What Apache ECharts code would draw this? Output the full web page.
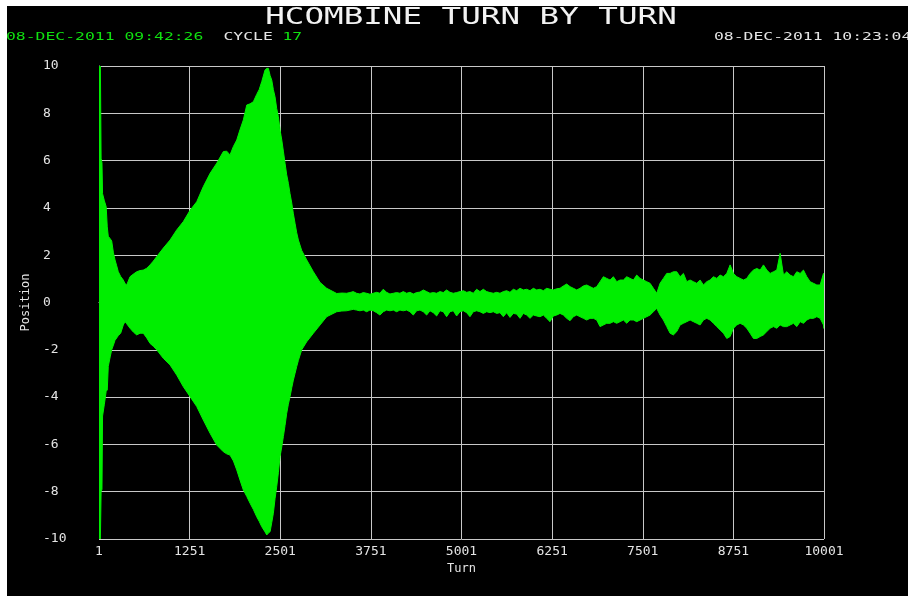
<!DOCTYPE html>
<html>
<head>
<meta charset="utf-8">
<script src="https://cdn.jsdelivr.net/npm/echarts@6/dist/echarts.min.js"></script>
<style>
  html, body { margin: 0; padding: 0; background: #000; overflow: hidden; width: 908px; height: 596px; }
  #chart { position: absolute; left: 0; top: 0; width: 908px; height: 596px; }
</style>
</head>
<body>
<div id="chart"></div>
<script>
// ---------------- texts ----------------
const titleText = 'HCOMBINE TURN BY TURN';
const startStamp = '08-DEC-2011 09:42:26';
const cycleLabel = 'CYCLE';
const cycleNumber = '17';
const endStamp = '08-DEC-2011 10:23:04';
const xName = 'Turn';
const yName = 'Position';

// ---------------- tick labels ----------------
const xTickLabels = ['1', '1251', '2501', '3751', '5001', '6251', '7501', '8751', '10001'];
const yTickLabels = ['-10', '-8', '-6', '-4', '-2', '0', '2', '4', '6', '8', '10'];

// ---------------- envelope data (turn, max position, min position) ----------------
const turnsEarly = [1,20,30,42,50,75,100,115,129,155,176,200,222,245,267,300,336,360,383,429,475,521,567,612,660,705,750,797,888,981,1073,1164,1257,1349,1440,1533,1625,1716,1762,1808,1855,1901,1945,1992,2039,2085,2130,2176,2210,2246,2291,2315,2337,2361,2384,2406,2429,2452,2475,2498,2522,2544,2567,2590,2613,2636,2660,2682,2705,2728,2751,2797,2866,2958,3050,3142,3280,3350];
const upperEarly = [10,10,6.1,5.9,4.6,4.3,4.05,3.2,2.8,2.7,2.6,2.1,1.8,1.55,1.3,1.1,0.95,0.8,0.74,1.09,1.2,1.3,1.35,1.37,1.45,1.59,1.75,1.94,2.3,2.64,3.07,3.42,3.9,4.26,4.9,5.46,5.89,6.38,6.4,6.24,6.6,6.87,7.3,7.72,8.35,8.4,8.49,8.8,9.0,9.34,9.83,9.9,9.9,9.6,9.4,9.0,8.7,8.2,7.86,7.3,6.87,6.4,5.89,5.4,5.04,4.6,4.2,3.75,3.35,2.95,2.64,2.2,1.8,1.3,0.85,0.6,0.38,0.4];
const lowerEarly = [-10,-10,-8.0,-7.9,-4.8,-4.3,-3.75,-3.7,-2.7,-2.3,-2.0,-1.8,-1.6,-1.5,-1.4,-1.3,-0.95,-0.81,-0.9,-1.09,-1.25,-1.37,-1.3,-1.3,-1.5,-1.73,-1.85,-2.0,-2.36,-2.64,-3.07,-3.56,-3.98,-4.4,-4.97,-5.53,-6.03,-6.31,-6.4,-6.45,-6.7,-7.08,-7.5,-7.93,-8.2,-8.49,-8.75,-9.06,-9.25,-9.48,-9.7,-9.83,-9.75,-9.69,-9.3,-8.91,-8.3,-7.79,-7.2,-6.52,-6.1,-5.67,-5.2,-4.69,-4.3,-3.98,-3.6,-3.28,-3.0,-2.71,-2.45,-2.0,-1.66,-1.3,-0.95,-0.6,-0.39,-0.36];

const turnsMid = [3416,3462,3508,3554,3600,3646,3692,3738,3784,3830,3876,3922,3968,4014,4060,4106,4152,4198,4244,4290,4336,4382,4428,4474,4520,4566,4612,4658,4704,4750,4796,4842,4888,4934,4980,5026,5072,5118,5164,5210,5256,5302,5348,5394,5440,5486,5532,5578,5624,5670,5716,5762,5808,5854,5900,5946,5992,6038,6084,6130,6176,6222,6268,6314,6360,6406,6452,6498,6544];
const upperMid = [0.39,0.42,0.46,0.39,0.36,0.42,0.39,0.35,0.39,0.43,0.39,0.56,0.43,0.36,0.39,0.42,0.39,0.46,0.39,0.43,0.36,0.42,0.44,0.53,0.46,0.39,0.42,0.39,0.46,0.42,0.53,0.43,0.39,0.42,0.46,0.50,0.43,0.46,0.39,0.56,0.46,0.56,0.46,0.42,0.39,0.43,0.39,0.46,0.50,0.43,0.56,0.50,0.60,0.53,0.56,0.50,0.60,0.53,0.56,0.50,0.60,0.56,0.53,0.58,0.60,0.70,0.78,0.67,0.60];
const lowerMid = [-0.35,-0.32,-0.29,-0.32,-0.35,-0.32,-0.39,-0.32,-0.35,-0.43,-0.53,-0.39,-0.32,-0.35,-0.32,-0.39,-0.32,-0.35,-0.32,-0.39,-0.53,-0.35,-0.32,-0.39,-0.53,-0.35,-0.43,-0.57,-0.35,-0.39,-0.60,-0.39,-0.35,-0.57,-0.39,-0.35,-0.43,-0.60,-0.39,-0.35,-0.39,-0.46,-0.39,-0.43,-0.39,-0.46,-0.43,-0.60,-0.43,-0.63,-0.46,-0.49,-0.67,-0.46,-0.53,-0.67,-0.53,-0.57,-0.60,-0.53,-0.67,-0.81,-0.57,-0.53,-0.46,-0.53,-0.67,-0.77,-0.60];

const turnsLate = [6590,6636,6682,6728,6774,6820,6866,6912,6958,7004,7050,7096,7142,7188,7234,7280,7326,7372,7418,7464,7510,7556,7602,7648,7694,7740,7786,7832,7878,7924,7970,8016,8062,8108,8154,8200,8246,8292,8338,8384,8430,8476,8522,8568,8614,8660,8706,8752,8798,8844,8890,8936,8982,9028,9074,9120,9166,9212,9258,9304,9350,9396,9442,9488,9534,9580,9626,9672,9718,9764,9810,9856,9902,9948,9994,10001];
const upperLate = [0.53,0.60,0.70,0.74,0.67,0.60,0.67,0.88,1.09,1.02,0.95,1.09,0.88,0.95,0.95,1.09,1.02,0.95,1.16,1.02,0.95,0.88,0.81,0.60,0.39,0.81,1.02,1.23,1.23,1.30,1.30,1.09,1.23,0.88,0.95,0.88,0.81,0.95,0.74,0.88,0.95,1.09,1.02,1.16,1.09,1.23,1.59,1.23,1.09,1.02,0.95,1.02,1.23,1.37,1.44,1.37,1.59,1.37,1.23,1.30,1.37,2.08,1.16,1.30,1.16,1.09,1.30,1.23,1.37,1.09,0.88,0.81,0.74,0.74,1.23,1.2];
const lowerLate = [-0.53,-0.60,-0.67,-0.74,-0.67,-0.67,-0.74,-1.02,-0.95,-0.88,-0.88,-0.81,-0.88,-0.81,-0.74,-0.88,-0.74,-0.74,-0.81,-0.74,-0.67,-0.60,-0.53,-0.39,-0.25,-0.53,-0.74,-1.02,-1.30,-1.37,-1.23,-0.95,-0.88,-0.81,-0.74,-0.81,-0.88,-0.95,-0.74,-0.67,-0.74,-0.88,-1.02,-1.16,-1.30,-1.52,-1.44,-1.09,-0.95,-0.88,-0.95,-1.09,-1.30,-1.52,-1.52,-1.44,-1.37,-1.23,-1.09,-1.02,-1.09,-0.95,-1.02,-1.02,-0.95,-0.88,-1.02,-0.81,-0.88,-0.74,-0.67,-0.67,-0.60,-0.67,-0.95,-1.1];

const turns = turnsEarly.concat(turnsMid, turnsLate);
const upper = upperEarly.concat(upperMid, upperLate);
const lower = lowerEarly.concat(lowerMid, lowerLate);

// ---------------- styling ----------------
const GREEN = '#00ee00';
const GRIDC = '#c8c8c8';
const LABELC = '#e4e4e4';
const MONO = '"DejaVu Sans Mono", "Liberation Mono", monospace';

const chart = echarts.init(document.getElementById('chart'), null, { renderer: 'canvas' });

const option = {
  backgroundColor: '#000',
  animation: false,
  grid: { left: 99, right: 84, top: 66, bottom: 57, containLabel: false },
  xAxis: {
    type: 'value',
    min: 0, max: 10000, interval: 1250,
    name: xName, nameLocation: 'middle', nameGap: 22,
    nameTextStyle: { color: LABELC, fontFamily: MONO, fontSize: 12 },
    axisLine: { show: true, lineStyle: { color: GRIDC, width: 1 } },
    axisTick: { show: false },
    splitLine: { show: true, lineStyle: { color: GRIDC, width: 1 } },
    axisLabel: {
      color: LABELC, fontFamily: MONO, fontSize: 13, margin: 6,
      showMinLabel: true, showMaxLabel: true,
      formatter: function (v) { return xTickLabels[Math.round(v / 1250)]; }
    }
  },
  yAxis: {
    type: 'value',
    min: -10, max: 10, interval: 2,
    name: yName, nameLocation: 'middle', nameGap: 60, nameRotate: 90,
    nameTextStyle: { color: LABELC, fontFamily: MONO, fontSize: 12 },
    axisLine: { show: true, lineStyle: { color: GRIDC, width: 1 } },
    axisTick: { show: false },
    splitLine: { show: true, lineStyle: { color: GRIDC, width: 1 } },
    axisLabel: {
      color: LABELC, fontFamily: MONO, fontSize: 13, margin: 56, align: 'left',
      formatter: function (v) { return yTickLabels[Math.round((v + 10) / 2)]; }
    }
  },
  series: [{
    type: 'custom',
    coordinateSystem: 'cartesian2d',
    clip: true,
    silent: true,
    data: [[0, 0]],
    renderItem: function (params, api) {
      const pts = [];
      for (let i = 0; i < turns.length; i++) pts.push(api.coord([turns[i] - 1, upper[i]]));
      for (let i = turns.length - 1; i >= 0; i--) pts.push(api.coord([turns[i] - 1, lower[i]]));
      return {
        type: 'polygon',
        shape: { points: pts },
        style: { fill: GREEN, stroke: GREEN, lineWidth: 1 }
      };
    }
  }],
  graphic: [
    { type: 'rect', left: 0, top: 0, shape: { x: 0, y: 0, width: 908, height: 6 }, style: { fill: '#fff' }, silent: true },
    { type: 'rect', left: 0, top: 0, shape: { x: 0, y: 0, width: 7, height: 596 }, style: { fill: '#fff' }, silent: true },
    { type: 'text', x: 471, y: 18, scaleX: 1.415, scaleY: 1,
      style: { text: titleText, fill: '#f2f2f2', font: '23px ' + MONO, textAlign: 'center', textVerticalAlign: 'middle' } },
    { type: 'text', x: 6, y: 37, scaleX: 1.49, scaleY: 1,
      style: { text: startStamp, fill: '#10e010', font: '11px ' + MONO, textAlign: 'left', textVerticalAlign: 'middle' } },
    { type: 'text', x: 223.5, y: 37, scaleX: 1.49, scaleY: 1,
      style: { text: cycleLabel, fill: '#e4e4e4', font: '11px ' + MONO, textAlign: 'left', textVerticalAlign: 'middle' } },
    { type: 'text', x: 282.5, y: 37, scaleX: 1.49, scaleY: 1,
      style: { text: cycleNumber, fill: '#10e010', font: '11px ' + MONO, textAlign: 'left', textVerticalAlign: 'middle' } },
    { type: 'text', x: 714, y: 37, scaleX: 1.49, scaleY: 1,
      style: { text: endStamp, fill: '#e4e4e4', font: '11px ' + MONO, textAlign: 'left', textVerticalAlign: 'middle' } }
  ]
};
chart.setOption(option);
</script>
</body>
</html>
